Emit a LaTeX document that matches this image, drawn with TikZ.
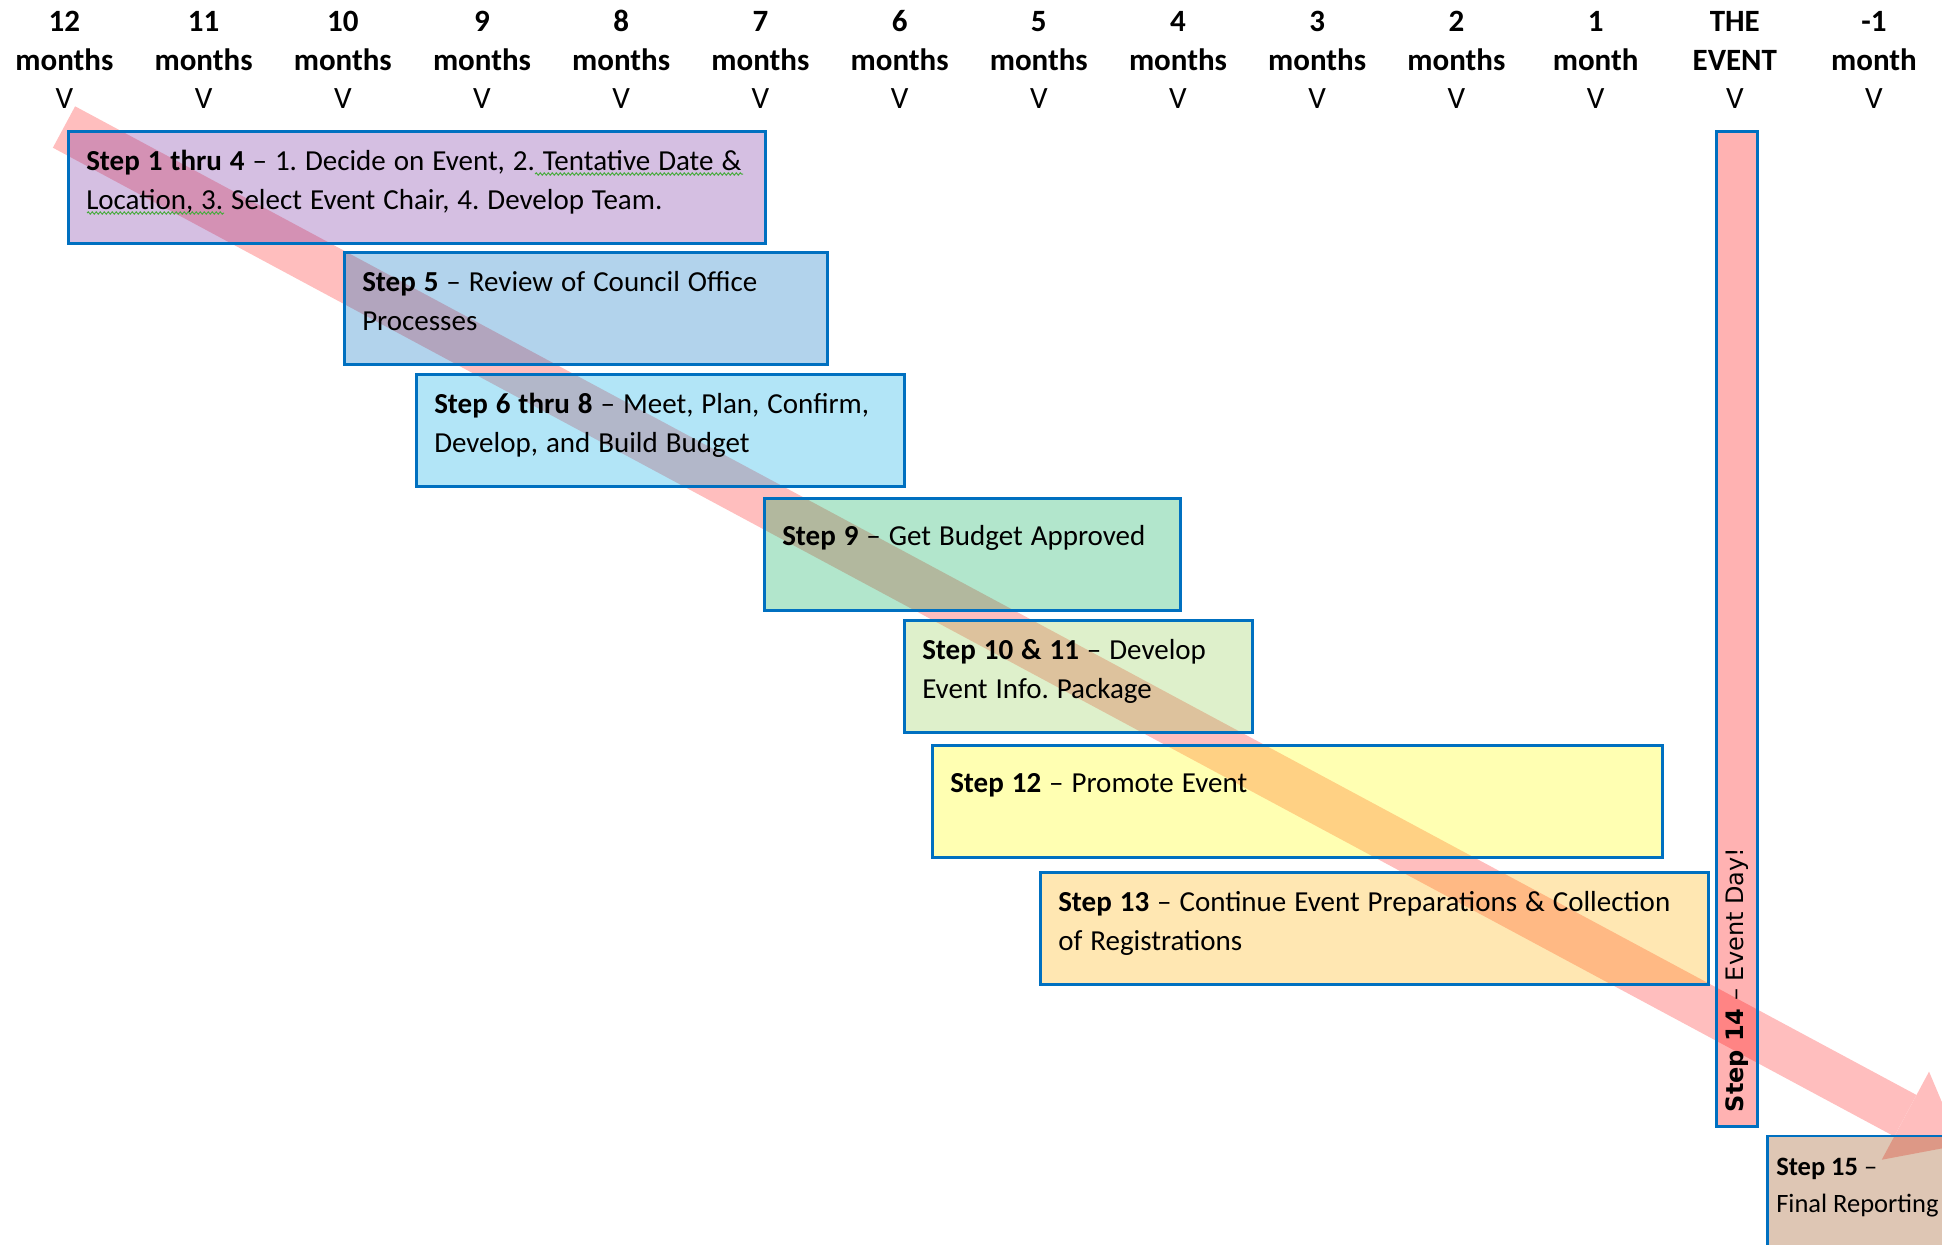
\documentclass[tikz,border=0pt]{standalone}
\usepackage{fontspec}
\setmainfont{Carlito}
\newfontfamily\barfont{DejaVu Sans}
\usepackage{tikz}
\usetikzlibrary{arrows.meta,decorations.pathmorphing}
\definecolor{officeblue}{RGB}{0,112,192}
\definecolor{arrowpink}{RGB}{255,190,190}
\definecolor{stepviolet}{RGB}{115,42,158}
\definecolor{stepblue}{RGB}{0,110,192}
\definecolor{stepcyan}{RGB}{0,168,228}
\definecolor{stepgreen}{RGB}{0,172,85}
\definecolor{steplime}{RGB}{145,205,82}
\definecolor{stepyellow}{RGB}{255,255,0}
\definecolor{steporange}{RGB}{255,175,0}
\definecolor{stepred}{RGB}{255,0,0}
\definecolor{stepbrown}{RGB}{145,65,5}
\definecolor{squiggreen}{RGB}{70,170,60}
\frenchspacing
\newcommand{\boxfont}{\fontsize{29}{39.5}\selectfont\spaceskip 0.275em\relax}

\begin{document}
\begin{tikzpicture}[x=1pt, y=1pt,
    hd/.style={text width=130pt, align=center, inner sep=0pt, anchor=base,
               font=\bfseries\fontsize{31}{38.5}\selectfont},
    b/.style={draw=officeblue, line width=2.5pt, fill opacity=0.3, text opacity=1,
              anchor=north west, align=flush left, inner xsep=18pt, inner ysep=0pt,
              text height=39pt, text depth=73pt, font=\boxfont},
    b1/.style={b, text height=47.5pt, text depth=64.5pt},
    evbar/.style={draw=officeblue, line width=2.5pt, fill=stepred, fill opacity=0.3,
              text opacity=1, rotate=90, anchor=north east, minimum width=995pt,
              minimum height=41pt, text width=967pt, align=flush left, inner xsep=14pt,
              inner ysep=0pt, font=\barfont\fontsize{24}{28}\selectfont},
    a/.style={arrowpink, line width=47pt,
              -{Triangle[width=100pt, length=62pt, line width=0pt]}},
    squig/.style={squiggreen, line width=1pt, decorate,
              decoration={snake, amplitude=1.1pt, segment length=4pt}}]
    \useasboundingbox (0,0) rectangle (1942,-1244);
    \clip (0,0) rectangle (1942,-1244);

    % time line
    \node[hd] (h12) at (64.4,-32)   {12\\months\\\mdseries V};
    \node[hd] (h11) at (203.6,-32)  {11\\months\\\mdseries V};
    \node[hd] (h10) at (342.8,-32)  {10\\months\\\mdseries V};
    \node[hd] (h9)  at (482.0,-32)  {9\\months\\\mdseries V};
    \node[hd] (h8)  at (621.2,-32)  {8\\months\\\mdseries V};
    \node[hd] (h7)  at (760.4,-32)  {7\\months\\\mdseries V};
    \node[hd] (h6)  at (899.6,-32)  {6\\months\\\mdseries V};
    \node[hd] (h5)  at (1038.8,-32) {5\\months\\\mdseries V};
    \node[hd] (h4)  at (1178.0,-32) {4\\months\\\mdseries V};
    \node[hd] (h3)  at (1317.2,-32) {3\\months\\\mdseries V};
    \node[hd] (h2)  at (1456.4,-32) {2\\months\\\mdseries V};
    \node[hd] (h1)  at (1595.6,-32) {1\\month\\\mdseries V};
    \node[hd] (hev) at (1734.8,-32) {THE\\EVENT\\\mdseries V};
    \node[hd] (hm1) at (1874.0,-32) {-1\\month\\\mdseries V};

    % big arrow behind the steps
    \coordinate (arrowstart) at (64,-127);
    \coordinate (arrowtip) at (1960,-1145);
    \draw[a] (arrowstart) -- (arrowtip);

    % steps
    \node[b, fill=stepviolet, text width=661pt] (s1to4) at (67,-130)
      {\textbf{Step 1 thru 4} – 1. Decide on Event, 2. Tentative Date \&\\Location, 3. Select Event Chair, 4. Develop Team.};
    \node[b, fill=stepblue, text width=447pt] (s5) at (343,-251)
      {\textbf{Step 5} – Review of Council Office\\Processes};
    \node[b, fill=stepcyan, text width=452pt] (s6to8) at (415,-373)
      {\textbf{Step 6 thru 8} – Meet, Plan, Confirm,\\Develop, and Build Budget};
    \node[b1, fill=stepgreen, text width=380pt] (s9) at (763,-497)
      {\textbf{Step 9} – Get Budget Approved};
    \node[b, fill=steplime, text width=312pt] (s10) at (903,-619)
      {\textbf{Step 10 \& 11} – Develop\\Event Info. Package};
    \node[b1, fill=stepyellow, text width=694pt] (s12) at (931,-744)
      {\textbf{Step 12} – Promote Event};
    \node[b, fill=steporange, text width=632pt] (s13) at (1039,-871)
      {\textbf{Step 13} – Continue Event Preparations \& Collection\\of Registrations};
    \node[evbar] (s14) at (1715,-130) {\textbf{Step 14} – Event Day!};
    \node[b, fill=stepbrown, text width=240pt, inner xsep=9pt, text height=40pt,
          text depth=160pt, font=\fontsize{26.5}{37}\selectfont] (s15) at (1766,-1134.5)
      {\textbf{Step 15} –\\Final Reporting};

    % spelling marks
    \draw[squig] (535,-174) -- (743,-174);
    \draw[squig] (87,-213) -- (224,-213);
  \end{tikzpicture}
\end{document}
